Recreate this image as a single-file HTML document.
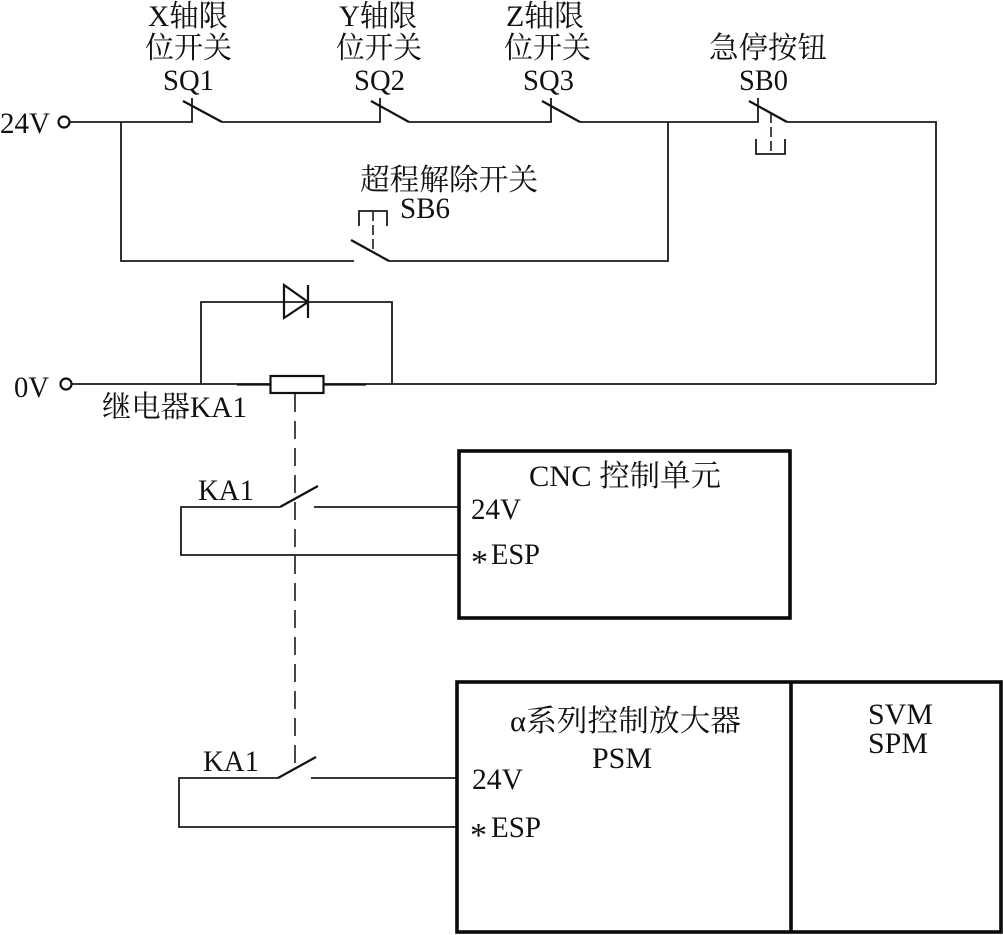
<!DOCTYPE html>
<html lang="zh">
<head>
<meta charset="utf-8">
<title>急停电路</title>
<style>
html,body{margin:0;padding:0;background:#fff;}
svg{display:block;}
text{font-family:"Liberation Serif","Noto Serif CJK SC",serif;font-size:30px;fill:#111;}
.w{fill:none;stroke:#1a1a1a;stroke-width:1.8;}
.t{fill:none;stroke:#111;stroke-width:2.2;}
.b{fill:none;stroke:#0a0a0a;stroke-width:3.6;}
.d{fill:none;stroke:#1a1a1a;stroke-width:1.6;stroke-dasharray:18 9;}
</style>
</head>
<body>
<svg width="1003" height="935" viewBox="0 0 1003 935" xmlns="http://www.w3.org/2000/svg">
<rect width="1003" height="935" fill="#fff"/>

<!-- top circuit -->
<circle class="t" cx="64" cy="122" r="5.5"/>
<path class="w" d="M70 122H192V98M222 122H380V98M409 122H551V98M580 122H758V98M787 122H936V384"/>
<path class="t" d="M183 101L222 122M371 101L409 122M542 101L580 122M749 101L787 122"/>
<!-- SB0 actuator -->
<path class="d" style="stroke-dasharray:10 4" d="M771 113V153"/>
<path class="w" d="M756 139V154H785V139"/>
<!-- bypass -->
<path class="w" d="M121 122V261H354M389 261H668V122"/>
<path class="t" d="M351 240L389 261"/>
<path class="w" d="M359 226V211H387V226"/>
<path class="d" style="stroke-dasharray:10 4" d="M373 211V253"/>

<!-- relay + diode -->
<circle class="t" cx="66" cy="384" r="5.5"/>
<path class="w" d="M72 384H936"/>
<path class="t" d="M237 384.500H270M323 384.500H366"/>
<rect class="t" x="270.500" y="376" width="53" height="17" style="fill:#fff"/>
<path class="w" d="M201 384V302H392V384"/>
<path class="t" d="M284 285V318L308 302ZM308 285V318"/>
<path class="d" d="M295 394V772"/>

<!-- KA1 upper -->
<path class="w" d="M280 507H181V555H459M314 507H459"/>
<path class="t" d="M280 507L318 486"/>
<rect class="b" x="459" y="451" width="331" height="167"/>

<!-- KA1 lower -->
<path class="w" d="M278 778H179V827H457M311 778H457"/>
<path class="t" d="M278 778L316 757"/>
<rect class="b" x="457" y="682" width="544" height="250"/>
<path class="b" d="M791 682V932"/>

<!-- labels -->
<text x="148" y="26" textLength="80" lengthAdjust="spacingAndGlyphs">X轴限</text>
<text x="145" y="58" textLength="87" lengthAdjust="spacingAndGlyphs">位开关</text>
<text x="163" y="90" textLength="51" lengthAdjust="spacingAndGlyphs">SQ1</text>
<text x="339" y="26" textLength="78" lengthAdjust="spacingAndGlyphs">Y轴限</text>
<text x="336" y="58" textLength="86" lengthAdjust="spacingAndGlyphs">位开关</text>
<text x="354" y="90" textLength="51" lengthAdjust="spacingAndGlyphs">SQ2</text>
<text x="506" y="26" textLength="78" lengthAdjust="spacingAndGlyphs">Z轴限</text>
<text x="504" y="58" textLength="87" lengthAdjust="spacingAndGlyphs">位开关</text>
<text x="523" y="90" textLength="51" lengthAdjust="spacingAndGlyphs">SQ3</text>
<text x="709" y="58" textLength="118" lengthAdjust="spacingAndGlyphs">急停按钮</text>
<text x="739" y="90" textLength="49" lengthAdjust="spacingAndGlyphs">SB0</text>
<text x="0" y="133" textLength="50" lengthAdjust="spacingAndGlyphs">24V</text>
<text x="360" y="190" textLength="178" lengthAdjust="spacingAndGlyphs">超程解除开关</text>
<text x="400" y="218" textLength="50" lengthAdjust="spacingAndGlyphs">SB6</text>
<text x="14" y="397" textLength="35" lengthAdjust="spacingAndGlyphs">0V</text>
<text x="102" y="417" textLength="145" lengthAdjust="spacingAndGlyphs">继电器KA1</text>
<text x="198" y="500" textLength="56" lengthAdjust="spacingAndGlyphs">KA1</text>
<text x="529" y="486" textLength="192" lengthAdjust="spacingAndGlyphs">CNC 控制单元</text>
<text x="471" y="519" textLength="50" lengthAdjust="spacingAndGlyphs">24V</text>
<text x="471" y="573" style="font-size:34px">*</text>
<text x="491" y="564" textLength="49" lengthAdjust="spacingAndGlyphs">ESP</text>
<text x="510" y="731" textLength="231" lengthAdjust="spacingAndGlyphs">α系列控制放大器</text>
<text x="592" y="768" textLength="60" lengthAdjust="spacingAndGlyphs">PSM</text>
<text x="868" y="724" textLength="65" lengthAdjust="spacingAndGlyphs">SVM</text>
<text x="868" y="753" textLength="60" lengthAdjust="spacingAndGlyphs">SPM</text>
<text x="203" y="771" textLength="56" lengthAdjust="spacingAndGlyphs">KA1</text>
<text x="472" y="789" textLength="51" lengthAdjust="spacingAndGlyphs">24V</text>
<text x="470" y="846" style="font-size:34px">*</text>
<text x="491" y="837" textLength="50" lengthAdjust="spacingAndGlyphs">ESP</text>
</svg>
</body>
</html>
